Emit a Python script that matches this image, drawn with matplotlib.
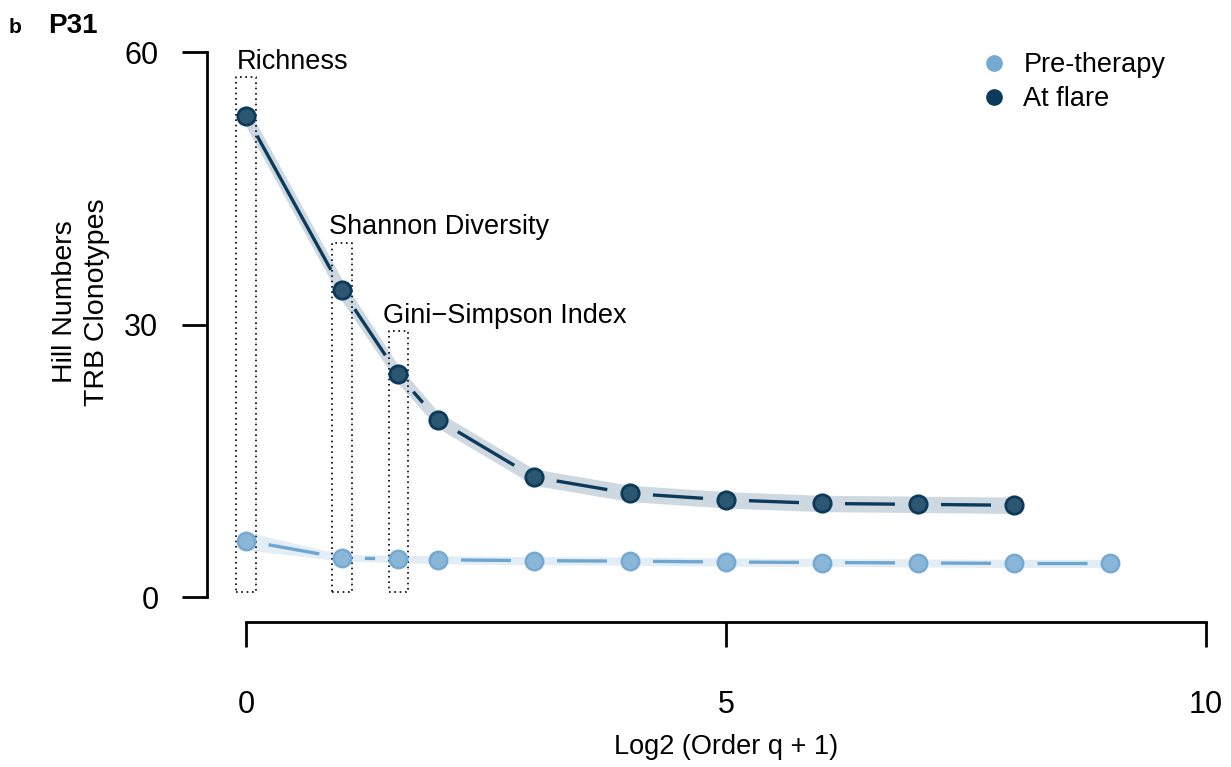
import numpy as np
import matplotlib
matplotlib.use("Agg")
import matplotlib.pyplot as plt
from matplotlib.lines import Line2D

plt.rcParams['font.family'] = ['Liberation Sans', 'DejaVu Sans']

# Hill numbers of TRB clonotypes by order q (x = log2(q + 1))
q_pre = [0, 1, 2, 3, 7, 15, 31, 63, 127, 255, 511]
pre_vals = [6.2, 4.3, 4.2, 4.1, 4.0, 3.95, 3.85, 3.8, 3.75, 3.7, 3.7]
pre_lo = [5.2, 3.95, 3.8, 3.65, 3.55, 3.5, 3.4, 3.35, 3.3, 3.25, 3.25]
pre_hi = [7.2, 4.65, 4.6, 4.55, 4.45, 4.4, 4.3, 4.25, 4.2, 4.15, 4.15]

q_flare = [0, 1, 2, 3, 7, 15, 31, 63, 127, 255]
flare_vals = [53.0, 33.8, 24.5, 19.5, 13.2, 11.4, 10.7, 10.3, 10.2, 10.1]
flare_lo = [51.8, 32.6, 23.5, 18.6, 12.3, 10.5, 9.8, 9.4, 9.3, 9.2]
flare_hi = [54.2, 35.0, 25.5, 20.4, 14.1, 12.3, 11.6, 11.2, 11.1, 11.0]

# Annotated orders: richness (q=0), Shannon (q=1), Gini-Simpson (q=2)
ann_labels = ["Richness", "Shannon Diversity", "Gini\u2212Simpson Index"]
ann_q = [0, 1, 2]
ann_box_top = [57.2, 39.0, 29.3]
ann_text_y = [58.1, 40.0, 30.2]
ann_text_dx = [-0.10, -0.13, -0.16]

x_ticks = [0, 5, 10]
y_ticks = [0, 30, 60]

pre_line = "#6fa6d0"
pre_face = "#8ab6d8"
pre_edge = "#73a9d2"
pre_band = "#e2edf6"
flare_line = "#0b3a5a"
flare_face = "#2c5773"
flare_edge = "#0b3a5a"
flare_band = "#cdd8e0"

W, H = 1231, 767
fig = plt.figure(figsize=(W / 100, H / 100), dpi=100)
ax = fig.add_axes([207 / W, (H - 622) / H, (1206 - 207) / W, (622 - 52) / H])
ax.set_xlim(-0.406, 10)
ax.set_ylim(-2.75, 60)

x_pre = np.log2(np.array(q_pre) + 1)
x_flare = np.log2(np.array(q_flare) + 1)


def gapped_line(xs, ys, gap_px, **kw):
    """Connect points with segments that stop short of each point."""
    tr = ax.transData
    pts = tr.transform(np.column_stack([xs, ys]))
    inv = tr.inverted()
    for p0, p1 in zip(pts[:-1], pts[1:]):
        d = p1 - p0
        length = np.hypot(*d)
        if length <= 2 * gap_px:
            continue
        u = d / length
        seg = inv.transform(np.array([p0 + u * gap_px, p1 - u * gap_px]))
        ax.plot(seg[:, 0], seg[:, 1], solid_capstyle='butt', **kw)


# confidence bands
ax.fill_between(x_pre, pre_lo, pre_hi, color=pre_band, lw=0, zorder=1)
ax.fill_between(x_flare, flare_lo, flare_hi, color=flare_band, lw=0, zorder=1)

# annotation boxes
for q, top, lab, ty, dx in zip(ann_q, ann_box_top, ann_labels, ann_text_y, ann_text_dx):
    xc = np.log2(q + 1)
    ax.plot([xc - 0.1, xc + 0.1, xc + 0.1, xc - 0.1, xc - 0.1],
            [0.5, 0.5, top, top, 0.5], color="black", lw=1.2,
            ls=(0, (1, 2.2)), zorder=2)
    ax.text(xc + dx, ty, lab, fontsize=19.5, ha="left", va="baseline", zorder=5)

gapped_line(x_pre, pre_vals, 23, color=pre_line, lw=2.4, zorder=3)
gapped_line(x_flare, flare_vals, 23, color=flare_line, lw=2.4, zorder=3)

ax.plot(x_pre, pre_vals, ls="none", marker="o", ms=12.5, mfc=pre_face,
        mec=pre_edge, mew=1.8, zorder=4)
ax.plot(x_flare, flare_vals, ls="none", marker="o", ms=12.5, mfc=flare_face,
        mec=flare_edge, mew=2.0, zorder=4)

# axes styling
for s in ["top", "right"]:
    ax.spines[s].set_visible(False)
ax.spines["left"].set_bounds(0, 60)
ax.spines["bottom"].set_bounds(0, 10)
for s in ["left", "bottom"]:
    ax.spines[s].set_linewidth(2.0)
ax.set_xticks(x_ticks)
ax.set_yticks(y_ticks)
ax.set_xticklabels([str(t) for t in x_ticks])
ax.set_yticklabels([str(t) for t in y_ticks])
ax.tick_params(axis="both", length=18, width=2.0, labelsize=22)
ax.tick_params(axis="x", pad=31)
ax.tick_params(axis="y", pad=17)

fig.text(726 / W, 1 - 747 / H, "Log2 (Order q + 1)", fontsize=19.5,
         ha="center", va="center")
fig.text(81 / W, 1 - 302 / H, "Hill Numbers\nTRB Clonotypes", fontsize=20.5,
         rotation=90, ha="center", va="center", multialignment="center",
         linespacing=1.3)

fig.text(9 / W, 1 - 33 / H, "b", fontsize=15, fontweight="bold",
         ha="left", va="baseline")
fig.text(48 / W, 1 - 33 / H, "P31", fontsize=20, fontweight="bold",
         ha="left", va="baseline")

handles = [
    Line2D([], [], ls="none", marker="o", ms=11, mfc=pre_edge, mec=pre_edge),
    Line2D([], [], ls="none", marker="o", ms=11, mfc=flare_edge, mec=flare_edge),
]
leg = fig.legend(handles, ["Pre-therapy", "At flare"], loc="upper left",
                 bbox_to_anchor=(980 / W, 1 - 52 / H), frameon=False,
                 fontsize=19.5, handlelength=1.0, handletextpad=0.6,
                 labelspacing=0.3, borderaxespad=0, borderpad=0)

fig.savefig("out.png", dpi=100)
